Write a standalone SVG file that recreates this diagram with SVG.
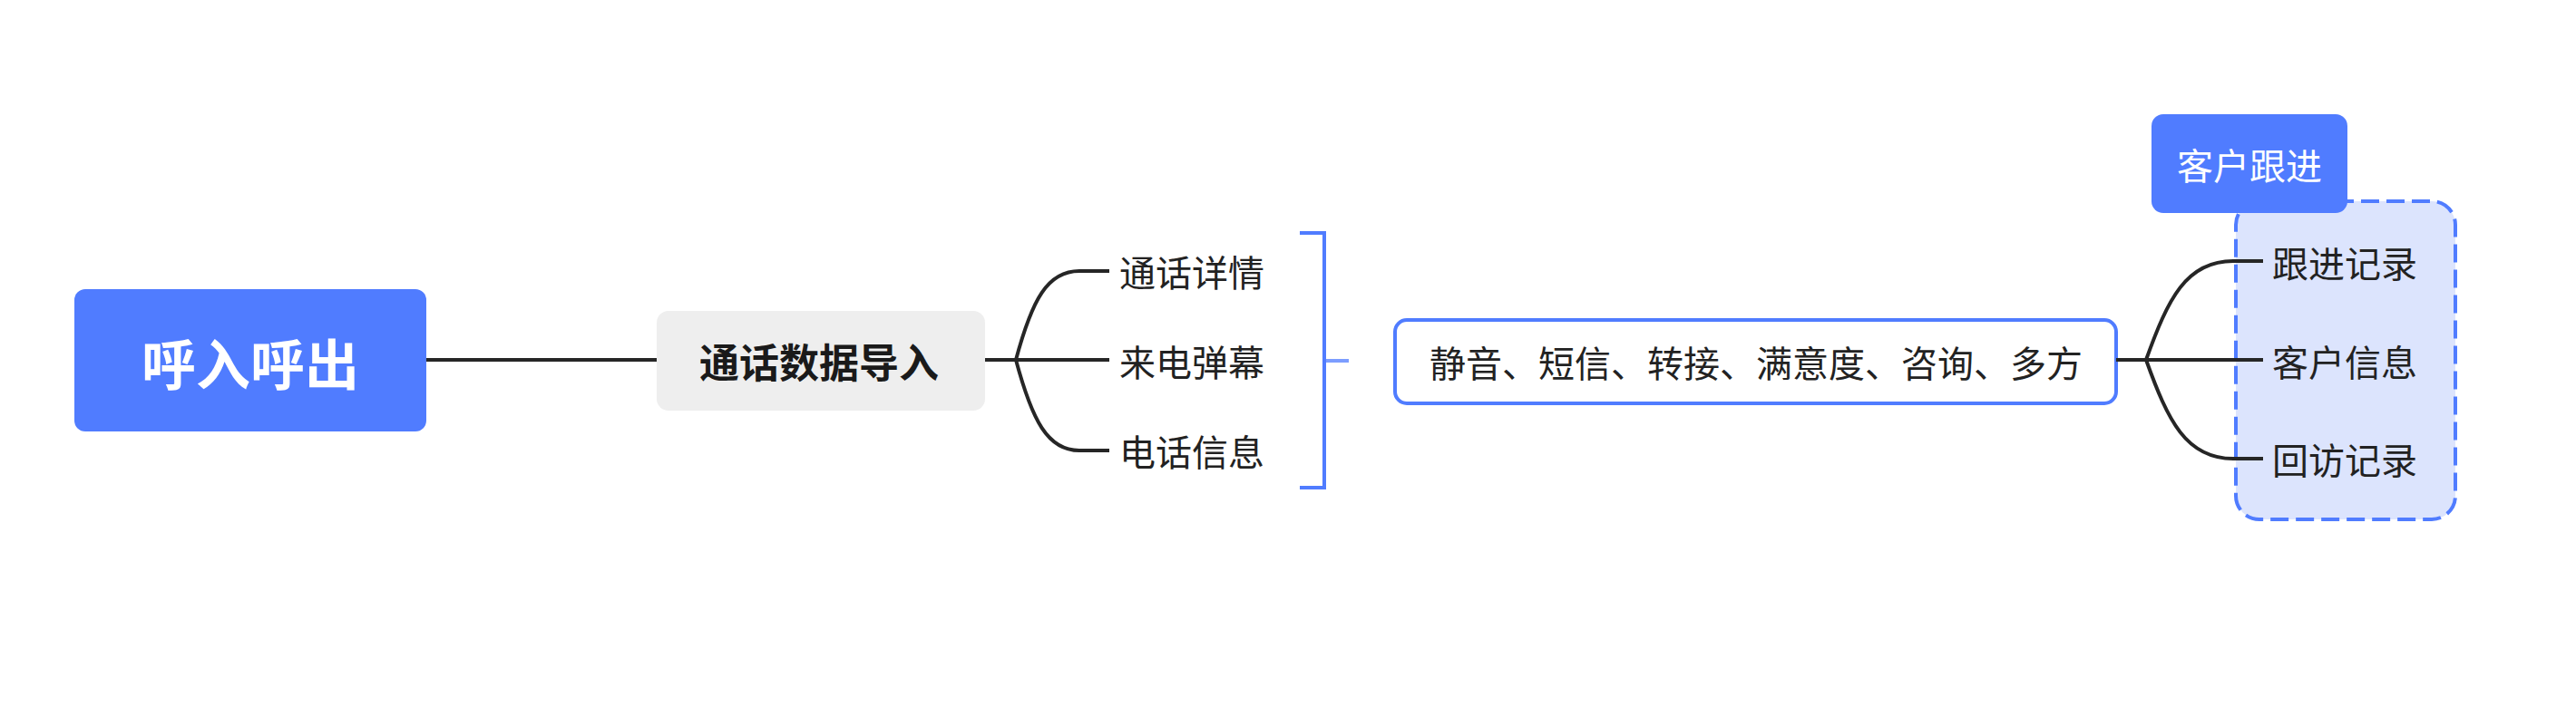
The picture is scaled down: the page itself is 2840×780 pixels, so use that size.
<svg xmlns="http://www.w3.org/2000/svg" width="2840" height="780" viewBox="0 0 2840 780">
  <style>
    text { font-family: "Noto Sans CJK SC", "Noto Sans", sans-serif; dominant-baseline: central; }
    .t40 { font-size: 40px; fill: #222222; }
    .white { fill: #ffffff; }
    .conn { fill: none; stroke: #262626; stroke-width: 4; stroke-linecap: butt; }
    .blue { fill: #507CFF; }
    .bracket { fill: none; stroke: #507CFF; stroke-width: 4; }
  </style>
  <rect width="2840" height="780" fill="#ffffff"/>

  <g id="connectors">
    <line class="conn" x1="470" y1="397" x2="724" y2="397"/>
    <line class="conn" x1="1086" y1="397" x2="1120" y2="397"/>
    <path class="conn" d="M1120,397 C1138,330 1155,299 1190,299 H1223"/>
    <line class="conn" x1="1120" y1="397" x2="1223" y2="397"/>
    <path class="conn" d="M1120,397 C1138,464 1155,497 1190,497 H1223"/>
  </g>

  <g id="root">
    <rect class="blue" x="82" y="319" width="388" height="157" rx="12"/>
    <text x="276" y="398" text-anchor="middle" font-size="60" font-weight="bold" class="white">呼入呼出</text>
  </g>

  <g id="import">
    <rect x="724" y="343" width="362" height="110" rx="13" fill="#EEEEEE"/>
    <text x="903" y="398" text-anchor="middle" font-size="44" font-weight="bold" fill="#1a1a1a">通话数据导入</text>
  </g>

  <g id="child-1"><text class="t40" x="1234" y="299">通话详情</text></g>
  <g id="child-2"><text class="t40" x="1234" y="398">来电弹幕</text></g>
  <g id="child-3"><text class="t40" x="1234" y="497">电话信息</text></g>

  <g id="summary-bracket">
    <path class="bracket" d="M1433,257 H1460 V538 H1433"/>
    <line x1="1460" y1="398" x2="1487" y2="398" stroke="#507CFF" stroke-opacity="0.75" stroke-width="4"/>
  </g>

  <g id="summary">
    <rect x="1538" y="353" width="795" height="92" rx="13" fill="#ffffff" stroke="#507CFF" stroke-width="4"/>
    <text class="t40" x="1936" y="399" text-anchor="middle">静音、短信、转接、满意度、咨询、多方</text>
  </g>

  <g id="boundary">
    <rect x="2465" y="222" width="242" height="351" rx="26" fill="#DCE4FD" stroke="#507CFF" stroke-width="4" stroke-dasharray="20 8"/>
  </g>

  <g id="connectors-right">
    <line class="conn" x1="2333" y1="397" x2="2366" y2="397"/>
    <path class="conn" d="M2366,397 C2390,330 2410,288 2462,288 H2495"/>
    <line class="conn" x1="2366" y1="397" x2="2495" y2="397"/>
    <path class="conn" d="M2366,397 C2390,464 2410,506 2462,506 H2495"/>
  </g>

  <g id="boundary-title">
    <rect class="blue" x="2372" y="126" width="216" height="109" rx="13"/>
    <text x="2480" y="181" text-anchor="middle" font-size="40" class="white">客户跟进</text>
  </g>

  <g id="right-1"><text class="t40" x="2505" y="289">跟进记录</text></g>
  <g id="right-2"><text class="t40" x="2505" y="398">客户信息</text></g>
  <g id="right-3"><text class="t40" x="2505" y="506">回访记录</text></g>
</svg>
